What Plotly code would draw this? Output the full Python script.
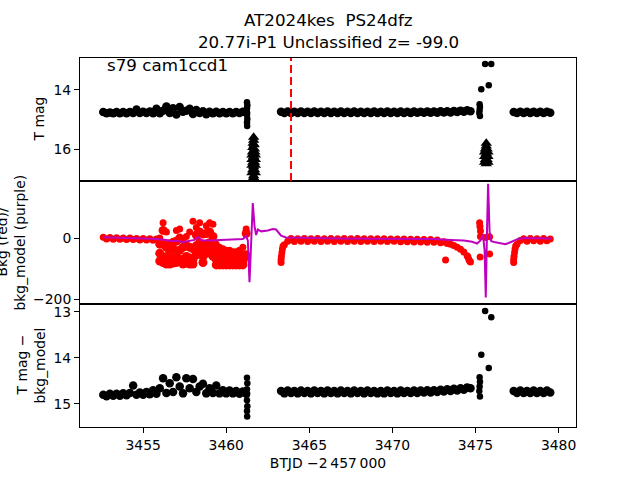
import plotly.graph_objects as go
from plotly.subplots import make_subplots

# segment times (BTJD - 2457000)
tA = [3452.6, 3452.8, 3453.0, 3453.2, 3453.4, 3453.6, 3453.8, 3454.0, 3454.2, 3454.4,
      3454.6, 3454.8, 3455.0, 3455.2, 3455.4, 3455.6, 3455.8, 3456.0, 3456.2, 3456.4,
      3456.6, 3456.8, 3457.0, 3457.2, 3457.4, 3457.6, 3457.8, 3458.0, 3458.2, 3458.4,
      3458.6, 3458.8, 3459.0, 3459.2, 3459.4, 3459.6, 3459.8, 3460.0, 3460.2, 3460.4,
      3460.6, 3460.8, 3461.0, 3461.2]
tB = [3463.3, 3463.5, 3463.7, 3463.9, 3464.1, 3464.3, 3464.5, 3464.7, 3464.9, 3465.1,
      3465.3, 3465.5, 3465.7, 3465.9, 3466.1, 3466.3, 3466.5, 3466.7, 3466.9, 3467.1,
      3467.3, 3467.5, 3467.7, 3467.9, 3468.1, 3468.3, 3468.5, 3468.7, 3468.9, 3469.1,
      3469.3, 3469.5, 3469.7, 3469.9, 3470.1, 3470.3, 3470.5, 3470.7, 3470.9, 3471.1,
      3471.3, 3471.5, 3471.7, 3471.9, 3472.1, 3472.3, 3472.5, 3472.7, 3472.9, 3473.1,
      3473.3, 3473.5, 3473.7, 3473.9, 3474.1, 3474.3, 3474.5, 3474.7]
tC = [3477.3, 3477.5, 3477.7, 3477.9, 3478.1, 3478.3, 3478.5, 3478.7, 3478.9, 3479.1,
      3479.3, 3479.5]
drop_t = [3461.25, 3461.27, 3461.25, 3461.23, 3461.25, 3461.27, 3461.25, 3461.26]
flare_t = [3475.25, 3475.27, 3475.25, 3475.23, 3475.27, 3475.35, 3475.8, 3475.58, 3475.95]

# T mag
magA = [14.75, 14.79, 14.76, 14.79, 14.75, 14.79, 14.75, 14.79, 14.75, 14.78,
        14.66, 14.78, 14.74, 14.78, 14.73, 14.79, 14.64, 14.79, 14.70, 14.56,
        14.78, 14.62, 14.83, 14.58, 14.74, 14.70, 14.64, 14.81, 14.68, 14.78,
        14.72, 14.82, 14.74, 14.79, 14.74, 14.79, 14.75, 14.79, 14.75, 14.79,
        14.75, 14.78, 14.74, 14.77]
magB = [14.74, 14.78, 14.73, 14.78, 14.74, 14.78, 14.73, 14.78, 14.74, 14.78,
        14.73, 14.78, 14.74, 14.78, 14.73, 14.78, 14.74, 14.78, 14.73, 14.78,
        14.74, 14.78, 14.73, 14.78, 14.74, 14.78, 14.74, 14.78, 14.73, 14.78,
        14.74, 14.78, 14.73, 14.78, 14.74, 14.78, 14.73, 14.78, 14.74, 14.78,
        14.73, 14.77, 14.74, 14.77, 14.73, 14.77, 14.73, 14.77, 14.72, 14.76,
        14.72, 14.76, 14.71, 14.75, 14.70, 14.74, 14.69, 14.72]
magC = [14.75, 14.78, 14.74, 14.78, 14.74, 14.78, 14.74, 14.78, 14.74, 14.78,
        14.74, 14.77]
mag_drop = [14.42, 14.52, 14.62, 14.72, 14.85, 14.98, 15.10, 15.22]
mag_flare = [14.48, 14.58, 14.68, 14.78, 14.88, 13.98, 13.84, 13.12, 13.12]

# upper limits (triangles)
lim1_t = [3461.65, 3461.65, 3461.62, 3461.68, 3461.6, 3461.7, 3461.58, 3461.72, 3461.55,
          3461.75, 3461.65, 3461.55, 3461.75, 3461.6, 3461.7, 3461.55, 3461.75, 3461.65,
          3461.6, 3461.7, 3461.55, 3461.75, 3461.65, 3461.6, 3461.7, 3461.65]
lim1 = [15.6, 15.7, 15.8, 15.85, 15.95, 16.0, 16.1, 16.1, 16.2, 16.2, 16.25, 16.35, 16.35,
        16.45, 16.45, 16.55, 16.55, 16.6, 16.7, 16.7, 16.8, 16.8, 16.9, 17.0, 17.0, 17.1]
lim2_t = [3475.65, 3475.65, 3475.6, 3475.7, 3475.55, 3475.75, 3475.65, 3475.55, 3475.75,
          3475.6, 3475.7, 3475.55, 3475.75, 3475.65]
lim2 = [15.8, 15.9, 16.0, 16.0, 16.1, 16.1, 16.15, 16.25, 16.25, 16.35, 16.35, 16.45,
        16.45, 16.5]

# background (red)
bkgA = [3, -3, 2, -4, 1, -4, 0, -5, 0, -5, -1, -6, -1, -6, -2, -7, -3,
        0, 50, 20, -15, -10, 25, 30, -5, 5, 20, 55, 35, 50, 10, 40, 50, 45,
        -20, -30, -35, -40, -40, -45, -45, -40, -30, 30]
tS = [3456.0, 3456.2, 3456.4, 3456.6, 3456.8, 3457.0, 3457.2, 3457.4, 3457.6, 3457.8,
      3458.0, 3458.2, 3458.4, 3458.6, 3458.8, 3459.0, 3459.2, 3459.4, 3459.6, 3459.8,
      3460.0, 3460.2, 3460.4, 3460.6, 3460.8, 3461.0, 3461.2]
bkgS2 = [-20, 25, -30, -40, -35, -10, 0, -30, -25, -30, -35, 10, 20, -35, 15, 20, 5,
         -50, -55, -60, -60, -65, -65, -65, -60, -55, 15]
bkgS3 = [-50, -20, -60, -70, -65, -60, -40, -70, -60, -65, -70, -25, -15, -60, -20, -15,
         -30, -70, -75, -80, -80, -85, -85, -85, -80, -75, -55]
bkgS4 = [-75, -80, -85, -85, -82, -80, -70, -85, -82, -85, -85, -55, -50, -80, -50, -45,
         -60, -88, -88, -88, -88, -88, -88, -88, -88, -88, -60]
bkgB = [-80, -22, -10, -1, -11, -2, -10, -1, -11, -2,
        -10, -1, -11, -2, -10, -1, -11, -2, -10, -1,
        -11, -2, -10, -1, -11, -2, -10, -2, -11, -2,
        -10, -2, -11, -3, -10, -3, -12, -3, -12, -4,
        -13, -4, -13, -5, -14, -5, -14, -6, -15, -12,
        -18, -20, -24, -30, -37, -46, -58, -78]
bkgC = [-80, -20, -8, -2, -10, -1, -9, -2, -10, -1, -9, -3]
edge_t = [3463.3, 3463.32, 3463.35, 3463.38, 3463.42, 3474.6, 3474.65, 3474.55,
          3477.3, 3477.32, 3477.35, 3477.38, 3477.42, 3473.2]
bkg_edge = [-70, -60, -48, -36, -26, -70, -75, -62, -70, -60, -48, -36, -26, -72]
spike_t = [3475.25, 3475.27, 3475.3, 3475.3, 3475.28, 3475.6, 3475.85, 3475.85]
bkg_spike = [50, 38, 23, 5, -62, 2, 4, -52]

# background model (purple)
model_t = [3452.6, 3453.5, 3454.5, 3455.5, 3456.0, 3456.4, 3456.7, 3457.0, 3457.4, 3457.8,
           3458.1, 3458.3, 3458.5, 3459.0, 3459.8, 3460.6, 3461.0, 3461.2, 3461.3, 3461.4,
           3461.5, 3461.6, 3461.7, 3461.8, 3461.9, 3462.1, 3462.5, 3462.8, 3463.0, 3463.3,
           3463.6, 3465.0, 3467.0, 3469.0, 3471.0, 3472.5, 3473.5, 3474.3, 3474.8, 3475.1,
           3475.3, 3475.45, 3475.55, 3475.62, 3475.7, 3475.76, 3475.85, 3475.95, 3476.2,
           3476.5, 3476.8, 3477.0, 3477.3, 3477.6, 3478.0, 3479.0, 3479.6]
model_v = [3, 2, 0, -2, -4, -6, -10, -9, -13, -10,
           -6, 4, -7, -8, -6, -4, -3, 6, -8, -145,
           0, 115, 40, 10, 28, 22, 25, 30, 28, 8,
           2, 0, -1, -2, -2, -3, -6, -8, -12, -18,
           -8, 12, -40, -195, 40, 178, 20, -10, -14,
           -18, -20, -16, -8, -2, 0, -1, -1]

# T mag - bkg_model
diffA = [14.80, 14.83, 14.78, 14.82, 14.78, 14.82, 14.77, 14.81, 14.76, 14.60,
         14.80, 14.75, 14.80, 14.74, 14.79, 14.70, 14.78, 14.66, 14.44, 14.76,
         14.55, 14.74, 14.42, 14.62, 14.77, 14.44, 14.66, 14.46, 14.74, 14.62,
         14.56, 14.77, 14.66, 14.76, 14.60, 14.77, 14.70, 14.77, 14.71, 14.77,
         14.72, 14.78, 14.73, 14.78]
diffB = [14.72, 14.77, 14.71, 14.76, 14.72, 14.77, 14.71, 14.76, 14.72, 14.77,
         14.71, 14.76, 14.72, 14.77, 14.71, 14.76, 14.72, 14.77, 14.71, 14.76,
         14.72, 14.77, 14.71, 14.76, 14.72, 14.77, 14.71, 14.76, 14.72, 14.77,
         14.72, 14.77, 14.71, 14.76, 14.72, 14.77, 14.71, 14.76, 14.72, 14.76,
         14.71, 14.76, 14.71, 14.75, 14.70, 14.75, 14.70, 14.74, 14.69, 14.73,
         14.68, 14.72, 14.67, 14.71, 14.66, 14.69, 14.64, 14.66]
diffC = [14.72, 14.76, 14.71, 14.76, 14.72, 14.76, 14.71, 14.76, 14.72, 14.76,
         14.71, 14.75]
diff_drop = [14.43, 14.55, 14.68, 14.80, 14.92, 15.05, 15.15, 15.27]
diff_flare = [14.42, 14.52, 14.62, 14.72, 14.84, 13.93, 14.22, 12.98, 13.12]

disc_t = 3463.9
xticks = [3455, 3460, 3465, 3470, 3475, 3480]

FONT = "DejaVu Sans"
RED = "#ff0000"
PURPLE = "#bf00bf"

fig = make_subplots(rows=3, cols=1, shared_xaxes=True, vertical_spacing=0)


def dots(x, y, color, row, size=6, symbol="circle"):
    fig.add_trace(go.Scatter(x=x, y=y, mode="markers",
                             marker=dict(color=color, size=size, symbol=symbol,
                                         line=dict(width=0)),
                             showlegend=False, hoverinfo="skip"), row=row, col=1)


for xs, ys in [(tA, magA), (tB, magB), (tC, magC)]:
    dots(xs, ys, "black", 1, size=8.5)
for xs, ys in [(drop_t, mag_drop), (flare_t, mag_flare)]:
    dots(xs, ys, "black", 1, size=6.5)
dots(lim1_t, lim1, "black", 1, size=10, symbol="triangle-up")
dots(lim2_t, lim2, "black", 1, size=10, symbol="triangle-up")

for xs, ys in [(tA, bkgA), (tB, bkgB), (tC, bkgC), (edge_t, bkg_edge), (spike_t, bkg_spike)]:
    dots(xs, ys, RED, 2, size=7)
for ys in (bkgS2, bkgS3, bkgS4):
    dots(tS, ys, RED, 2, size=9)
fig.add_trace(go.Scatter(x=model_t, y=model_v, mode="lines",
                         line=dict(color=PURPLE, width=2),
                         showlegend=False, hoverinfo="skip"), row=2, col=1)

for xs, ys in [(tA, diffA), (tB, diffB), (tC, diffC)]:
    dots(xs, ys, "black", 3, size=8.5)
for xs, ys in [(drop_t, diff_drop), (flare_t, diff_flare)]:
    dots(xs, ys, "black", 3, size=6.5)

fig.add_shape(type="line", xref="x", yref="y domain", x0=disc_t, x1=disc_t, y0=0, y1=1,
              line=dict(color=RED, width=2, dash="8px,4px"))

axis_style = dict(showline=True, mirror=True, linecolor="black", linewidth=1,
                  showgrid=False, zeroline=False,
                  tickfont=dict(family=FONT, size=13.9, color="black"))

for i in (1, 2, 3):
    fig.update_xaxes(axis_style, range=[3451.2, 3481.05], row=i, col=1)
fig.update_xaxes(showticklabels=False, ticks="", row=1, col=1)
fig.update_xaxes(showticklabels=False, ticks="", row=2, col=1)
fig.update_xaxes(ticks="outside", ticklen=5, tickwidth=1, tickcolor="black",
                 tickvals=xticks,
                 title=dict(text="BTJD \u22122\u2009457\u2009000", standoff=6,
                            font=dict(family=FONT, size=13.9, color="black")),
                 row=3, col=1)

tick_style = dict(ticks="outside", ticklen=5, tickwidth=1, tickcolor="black")
fig.update_yaxes(axis_style, **tick_style, range=[17.08, 12.92], tickvals=[14, 16], row=1, col=1)
fig.update_yaxes(axis_style, **tick_style, range=[-216, 187], tickvals=[-200, 0],
                 ticktext=["\u2212200", "0"], row=2, col=1)
fig.update_yaxes(axis_style, **tick_style, range=[15.5, 12.83], tickvals=[13, 14, 15], row=3, col=1)

W, L = 496, 80


def px(xpix):
    return (xpix - L) / W


label_font = dict(family=FONT, size=13.9, color="black")
ylabels = [("T mag", 39, 5 / 6), ("Bkg (red)/", 1, 0.5), ("bkg_model (purple)", 19, 0.5),
           ("T mag \u2212", 21, 1 / 6), ("bkg_model", 39, 1 / 6)]
for text, xp, yp in ylabels:
    fig.add_annotation(text=text, xref="paper", yref="paper", x=px(xp), y=yp,
                       xanchor="center", yanchor="middle", textangle=-90,
                       showarrow=False, font=label_font)

title_font = dict(family=FONT, size=16.7, color="black")
fig.add_annotation(text="AT2024kes\u00a0\u00a0PS24dfz", xref="paper", yref="paper",
                   x=0.5, y=1, yanchor="bottom", yshift=26, showarrow=False, font=title_font)
fig.add_annotation(text="20.77i-P1 Unclassified z= -99.0", xref="paper", yref="paper",
                   x=0.5, y=1, yanchor="bottom", yshift=4, showarrow=False, font=title_font)
fig.add_annotation(text="s79 cam1ccd1", xref="paper", yref="paper", x=0.05, y=0.98,
                   xanchor="left", yanchor="middle", showarrow=False,
                   font=dict(family=FONT, size=16.7, color="black"))

fig.update_layout(width=640, height=480, margin=dict(l=80, r=64, t=58, b=53),
                  plot_bgcolor="white", paper_bgcolor="white",
                  font=dict(family=FONT, color="black"))

# drop the browser's default 8px body margin so the figure sits at the page corner
fig.write_html("out.html", config={"displayModeBar": False},
               post_script="document.body.style.margin = '0px';")
